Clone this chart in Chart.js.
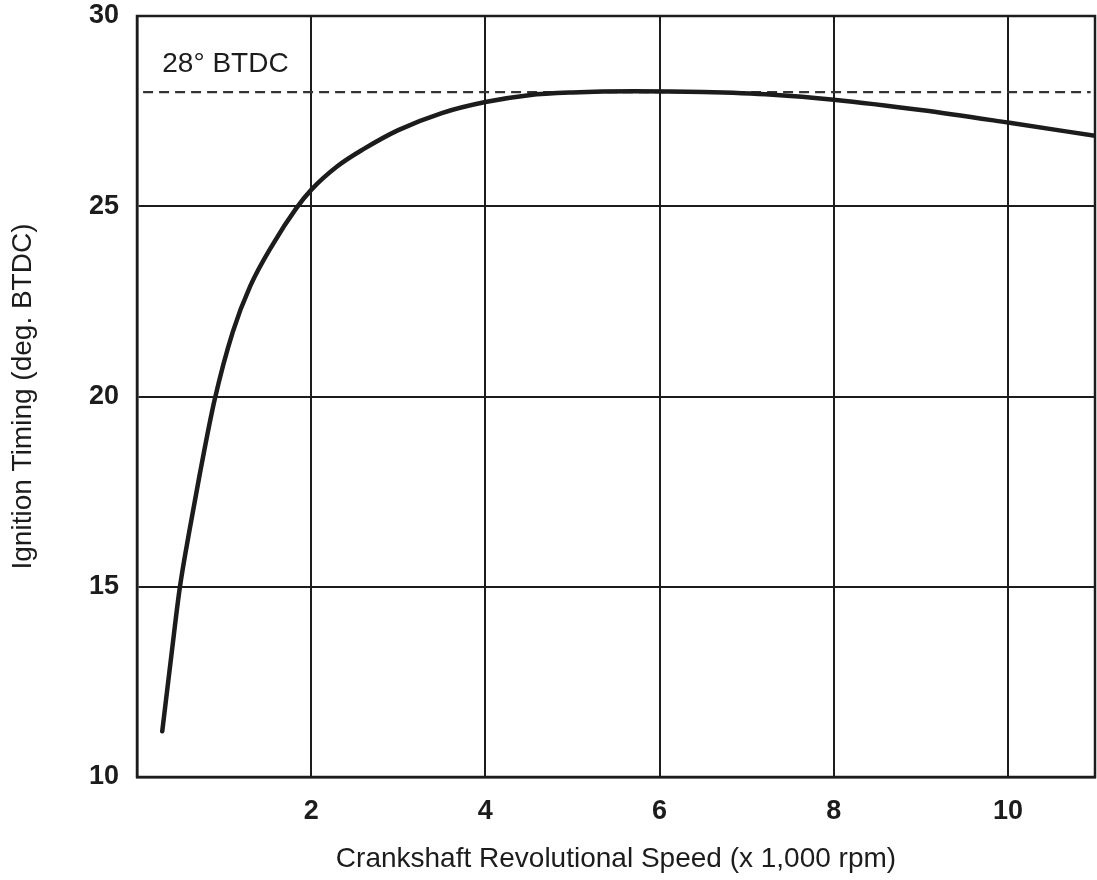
<!DOCTYPE html>
<html>
<head>
<meta charset="utf-8">
<title>Ignition Timing vs Crankshaft Speed</title>
<script src="https://cdn.jsdelivr.net/npm/chart.js@4.4.1/dist/chart.umd.min.js"></script>
<style>
  html, body { margin: 0; padding: 0; background: #ffffff; }
  #chart { display: block; }
</style>
</head>
<body>
<canvas id="chart" width="1097" height="880"></canvas>
<script>
// crankshaft speed (x 1,000 rpm) and ignition advance (deg. BTDC)
const speedK = [0.29, 0.40, 0.49, 0.60, 0.72, 0.89, 1.10, 1.30, 1.56, 1.83, 2.0, 2.3, 2.6, 3.0, 3.5, 4.0, 4.5, 5.0, 5.7, 6.5, 7.3, 8.0, 9.0, 10.0, 11.0];
const timingDeg = [11.2, 13.3, 14.95, 16.45, 17.95, 19.9, 21.7, 22.9, 24.0, 24.95, 25.43, 26.05, 26.5, 27.0, 27.45, 27.74, 27.92, 27.99, 28.02, 28.0, 27.93, 27.8, 27.53, 27.2, 26.85];

// dashed reference level
const refSpeedK = [0.07, 10.95];
const refTiming = [28, 28];
const refLabel = '28° BTDC';

const xTicks = [2, 4, 6, 8, 10];
const yTicks = [10, 15, 20, 25, 30];

const INK = '#1c1c1c';
const FONT = '"Liberation Sans", Arial, Helvetica, sans-serif';

function toPoints(xs, ys) {
    return xs.map((x, i) => ({ x: x, y: ys[i] }));
}

const framePlugin = {
    id: 'frame',
    afterDatasetsDraw(chart) {
        const { ctx, chartArea: { left, top, right, bottom } } = chart;
        ctx.save();
        ctx.strokeStyle = INK;
        ctx.lineWidth = 2.5;
        ctx.strokeRect(left, top, right - left, bottom - top);
        ctx.restore();
    }
};

const refLabelPlugin = {
    id: 'refLabel',
    afterDatasetsDraw(chart) {
        const { ctx, scales: { x, y } } = chart;
        ctx.save();
        ctx.fillStyle = INK;
        ctx.font = '28px ' + FONT;
        ctx.textAlign = 'left';
        ctx.textBaseline = 'middle';
        ctx.fillText(refLabel, x.getPixelForValue(0.29), y.getPixelForValue(28.72));
        ctx.restore();
    }
};

new Chart(document.getElementById('chart'), {
    type: 'scatter',
    data: {
        datasets: [
            {
                data: toPoints(speedK, timingDeg),
                showLine: true,
                borderColor: INK,
                borderWidth: 4.5,
                pointRadius: 0,
                cubicInterpolationMode: 'monotone',
                borderCapStyle: 'round',
                order: 0
            },
            {
                data: toPoints(refSpeedK, refTiming),
                showLine: true,
                borderColor: '#333333',
                borderWidth: 2.2,
                borderDash: [10, 6],
                pointRadius: 0,
                order: 1
            }
        ]
    },
    options: {
        responsive: false,
        animation: false,
        layout: { padding: { top: 16, right: 2, left: 0, bottom: 0 } },
        plugins: {
            legend: { display: false },
            tooltip: { enabled: false }
        },
        scales: {
            x: {
                type: 'linear',
                min: 0,
                max: 11,
                afterBuildTicks: s => { s.ticks = xTicks.map(v => ({ value: v })); },
                afterFit: s => { s.height = 103; s.paddingLeft = 0; s.paddingRight = 0; },
                grid: { color: INK, lineWidth: 2, drawTicks: false },
                border: { color: INK, width: 2.5 },
                ticks: {
                    color: INK,
                    padding: 18,
                    font: { family: FONT, size: 27, weight: 'bold' }
                },
                title: {
                    display: true,
                    text: 'Crankshaft Revolutional Speed (x 1,000 rpm)',
                    color: INK,
                    padding: { top: 0, bottom: 4 },
                    font: { family: FONT, size: 28 }
                }
            },
            y: {
                type: 'linear',
                min: 10,
                max: 30,
                afterBuildTicks: s => { s.ticks = yTicks.map(v => ({ value: v })); },
                afterFit: s => { s.width = 137; s.paddingTop = 0; s.paddingBottom = 0; },
                grid: { color: INK, lineWidth: 2, drawTicks: false },
                border: { color: INK, width: 2.5 },
                ticks: {
                    color: INK,
                    padding: 18,
                    font: { family: FONT, size: 27, weight: 'bold' }
                },
                title: {
                    display: true,
                    text: 'Ignition Timing (deg. BTDC)',
                    color: INK,
                    padding: { top: 6, bottom: 0 },
                    font: { family: FONT, size: 28 }
                }
            }
        }
    },
    plugins: [framePlugin, refLabelPlugin]
});
</script>
</body>
</html>
